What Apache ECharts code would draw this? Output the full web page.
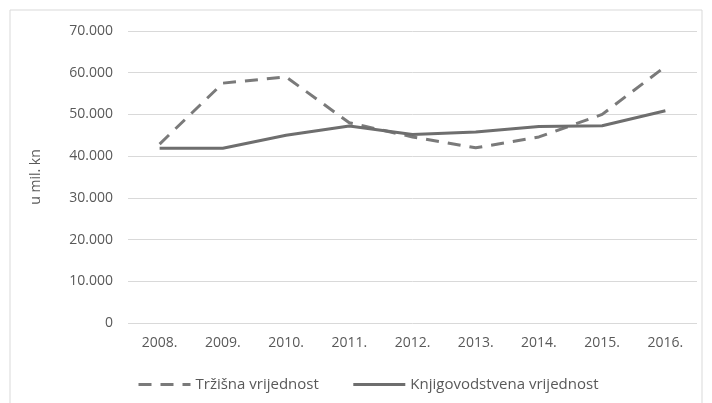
<!DOCTYPE html>
<html>
<head>
<meta charset="utf-8">
<script src="https://cdn.jsdelivr.net/npm/echarts@6/dist/echarts.min.js"></script>
<style>
  html, body { margin: 0; padding: 0; background: #fff; }
  #chart { width: 712px; height: 403px; }
</style>
</head>
<body>
<div id="chart"></div>
<script>
const years = ["2008.", "2009.", "2010.", "2011.", "2012.", "2013.", "2014.", "2015.", "2016."];
const trzisna = [42900, 57500, 59000, 48000, 44600, 42000, 44600, 50000, 61500];
const knjigovodstvena = [41900, 41900, 45000, 47200, 45200, 45800, 47100, 47300, 50900];

function fmt(v) {
  return String(v).replace(/\B(?=(\d{3})+(?!\d))/g, ".");
}

let chart = echarts.init(document.getElementById("chart"), null, { renderer: "canvas" });
let option = {
  animation: false,
  backgroundColor: "#fff",
  textStyle: { fontFamily: "Open Sans" },
  graphic: [
    {
      type: "rect",
      shape: { x: 10, y: 10, width: 692, height: 400 },
      style: { fill: "none", stroke: "#d9d9d9", lineWidth: 1 },
      silent: true,
    },
  ],
  grid: {
    left: 128,
    right: 15,
    top: 31,
    bottom: 80,
  },
  legend: {
    top: 372,
    left: 132,
    itemWidth: 52,
    itemHeight: 10,
    itemGap: 33,
    itemStyle: { opacity: 0 },
    lineStyle: { width: 3 },
    textStyle: { color: "#595959", fontSize: 15 },
    data: ["Tržišna vrijednost", "Knjigovodstvena vrijednost"],
  },
  xAxis: {
    type: "category",
    data: years,
    axisLine: { show: false },
    axisTick: { show: false },
    axisLabel: { color: "#595959", fontSize: 14, margin: 13 },
  },
  yAxis: {
    type: "value",
    min: 0,
    max: 70000,
    interval: 10000,
    name: "u mil. kn",
    nameLocation: "middle",
    nameGap: 85,
    nameRotate: 90,
    nameTextStyle: { color: "#595959", fontSize: 14 },
    axisLine: { show: false },
    axisTick: { show: false },
    axisLabel: { color: "#595959", fontSize: 14, margin: 15, formatter: fmt },
    splitLine: { lineStyle: { color: "#d9d9d9", width: 1 } },
  },
  series: [
    {
      name: "Tržišna vrijednost",
      type: "line",
      data: trzisna,
      symbol: "none",
      lineStyle: { color: "#7a7a7a", width: 3, type: [13, 9] },
      itemStyle: { color: "#7a7a7a" },
    },
    {
      name: "Knjigovodstvena vrijednost",
      type: "line",
      data: knjigovodstvena,
      symbol: "none",
      lineStyle: { color: "#6e6e6e", width: 3 },
      itemStyle: { color: "#6e6e6e" },
    },
  ],
};
option && chart.setOption(option);
</script>
</body>
</html>
